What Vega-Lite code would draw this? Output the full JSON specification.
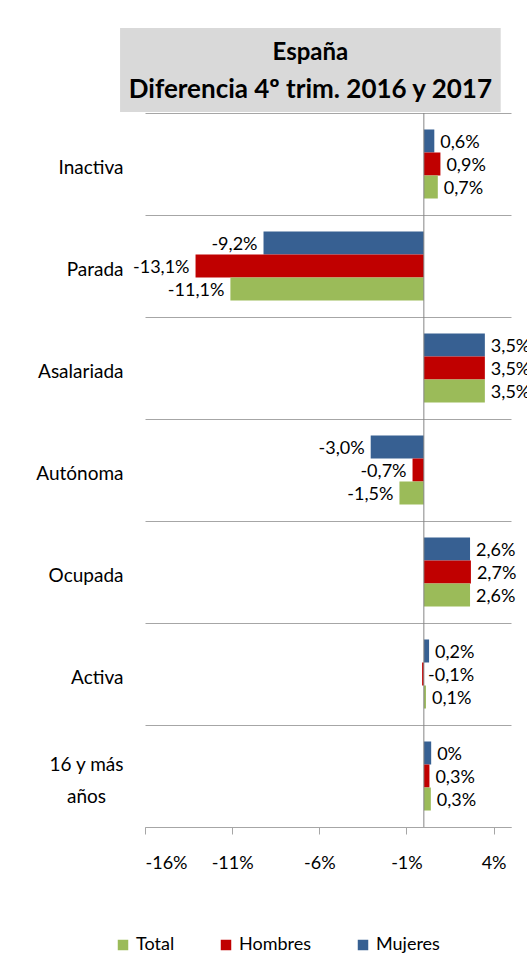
{
  "$schema": "https://vega.github.io/schema/vega-lite/v6.json",
  "padding": {"left": 35, "top": 28, "right": 0, "bottom": 0},
  "background": "white",
  "config": {
    "font": "Lato",
    "view": {"stroke": null},
    "axis": {"labelFont": "Lato", "labelColor": "#000000"},
    "legend": {"labelFont": "Lato", "labelColor": "#000000"}
  },
  "spacing": -8,
  "resolve": {"scale": {"x": "independent"}},
  "vconcat": [
    {
      "width": 366,
      "height": 84,
      "data": {"values": [{"line1": "España", "line2": "Diferencia 4º trim. 2016 y 2017", "x0": -17.43, "x1": 4.41, "xc": -6.51}]},
      "layer": [
        {
          "mark": {"type": "rect", "color": "#d9d9d9"},
          "encoding": {
            "x": {"field": "x0", "type": "quantitative", "scale": {"domain": [-16, 5], "nice": false, "zero": false}, "axis": null},
            "x2": {"field": "x1"}
          }
        },
        {
          "mark": {"type": "text", "font": "Lato", "fontWeight": "bold", "fontSize": 24, "baseline": "alphabetic", "dy": -10, "color": "#000000"},
          "encoding": {
            "x": {"field": "xc", "type": "quantitative"},
            "text": {"field": "line1"}
          }
        },
        {
          "mark": {"type": "text", "font": "Lato", "fontWeight": "bold", "fontSize": 26, "baseline": "alphabetic", "dy": 28, "color": "#000000"},
          "encoding": {
            "x": {"field": "xc", "type": "quantitative"},
            "text": {"field": "line2"}
          }
        }
      ]
    },
    {
      "width": 366,
      "height": 714,
      "data": {"values": [
        {"cat": "Inactiva", "serie": "Mujeres", "v": 0.6, "label": "0,6%"},
        {"cat": "Inactiva", "serie": "Hombres", "v": 0.95, "label": "0,9%"},
        {"cat": "Inactiva", "serie": "Total", "v": 0.8, "label": "0,7%"},
        {"cat": "Parada", "serie": "Mujeres", "v": -9.2, "label": "-9,2%"},
        {"cat": "Parada", "serie": "Hombres", "v": -13.1, "label": "-13,1%"},
        {"cat": "Parada", "serie": "Total", "v": -11.1, "label": "-11,1%"},
        {"cat": "Asalariada", "serie": "Mujeres", "v": 3.5, "label": "3,5%"},
        {"cat": "Asalariada", "serie": "Hombres", "v": 3.5, "label": "3,5%"},
        {"cat": "Asalariada", "serie": "Total", "v": 3.5, "label": "3,5%"},
        {"cat": "Autónoma", "serie": "Mujeres", "v": -3.05, "label": "-3,0%"},
        {"cat": "Autónoma", "serie": "Hombres", "v": -0.65, "label": "-0,7%"},
        {"cat": "Autónoma", "serie": "Total", "v": -1.4, "label": "-1,5%"},
        {"cat": "Ocupada", "serie": "Mujeres", "v": 2.65, "label": "2,6%"},
        {"cat": "Ocupada", "serie": "Hombres", "v": 2.7, "label": "2,7%"},
        {"cat": "Ocupada", "serie": "Total", "v": 2.65, "label": "2,6%"},
        {"cat": "Activa", "serie": "Mujeres", "v": 0.3, "label": "0,2%"},
        {"cat": "Activa", "serie": "Hombres", "v": -0.1, "label": "-0,1%"},
        {"cat": "Activa", "serie": "Total", "v": 0.12, "label": "0,1%"},
        {"cat": "16 y más años", "serie": "Mujeres", "v": 0.42, "label": "0%"},
        {"cat": "16 y más años", "serie": "Hombres", "v": 0.32, "label": "0,3%"},
        {"cat": "16 y más años", "serie": "Total", "v": 0.4, "label": "0,3%"}
      ]},
      "layer": [
        {
          "mark": {"type": "bar"},
          "encoding": {
            "y": {
              "field": "cat", "type": "nominal",
              "sort": ["Inactiva", "Parada", "Asalariada", "Autónoma", "Ocupada", "Activa", "16 y más años"],
              "scale": {"domain": ["Inactiva", "Parada", "Asalariada", "Autónoma", "Ocupada", "Activa", "16 y más años"], "paddingInner": 0, "paddingOuter": 0},
              "axis": {
                "title": null, "domain": false, "ticks": false, "grid": true, "tickBand": "extent",
                "gridColor": "#a6a6a6", "gridWidth": 1, "labelFontSize": 19,
                "labelPadding": {"condition": {"test": "datum.value == '16 y más años'", "value": 59}, "value": 22},
                "labelAlign": {"condition": {"test": "datum.value == '16 y más años'", "value": "center"}, "value": "right"},
                "labelOffset": {"condition": {"test": "datum.value == '16 y más años'", "value": -12}, "value": 3},
                "labelLineHeight": 32,
                "labelExpr": "datum.value == '16 y más años' ? ['16 y más', 'años'] : datum.value"
              }
            },
            "yOffset": {
              "field": "serie", "type": "nominal",
              "scale": {"domain": ["Mujeres", "Hombres", "Total"], "paddingInner": 0, "paddingOuter": 0.717}
            },
            "x": {
              "field": "v", "type": "quantitative",
              "scale": {"domain": [-16, 5], "nice": false, "zero": false},
              "axis": {
                "title": null, "values": [-16, -11, -6, -1, 4], "grid": false,
                "domainColor": "#a6a6a6", "tickColor": "#a6a6a6", "tickSize": 7,
                "labelFontSize": 18, "labelPadding": 20,
                "labelExpr": "datum.value + '%'"
              }
            },
            "x2": {"datum": 0},
            "color": {
              "field": "serie", "type": "nominal",
              "scale": {"domain": ["Total", "Hombres", "Mujeres"], "range": ["#9bbb59", "#c00000", "#376092"]},
              "legend": {
                "title": null, "orient": "none", "direction": "horizontal",
                "legendX": -31, "legendY": 908,
                "symbolType": "square", "symbolSize": 110, "symbolStrokeWidth": 0,
                "labelFontSize": 18, "columnPadding": 42
              }
            }
          }
        },
        {
          "transform": [{"filter": "datum.v >= -0.3"}],
          "mark": {"type": "text", "align": "left", "baseline": "middle", "dx": 6, "dy": 2, "fontSize": 18, "color": "#000000"},
          "encoding": {
            "y": {"field": "cat", "type": "nominal"},
            "yOffset": {"field": "serie", "type": "nominal"},
            "x": {"field": "v", "type": "quantitative"},
            "text": {"field": "label"}
          }
        },
        {
          "transform": [{"filter": "datum.v < -0.3"}],
          "mark": {"type": "text", "align": "right", "baseline": "middle", "dx": -6, "dy": 2, "fontSize": 18, "color": "#000000"},
          "encoding": {
            "y": {"field": "cat", "type": "nominal"},
            "yOffset": {"field": "serie", "type": "nominal"},
            "x": {"field": "v", "type": "quantitative"},
            "text": {"field": "label"}
          }
        },
        {
          "data": {"values": [{"zero": 0}]},
          "mark": {"type": "rule", "color": "#868686", "strokeWidth": 1},
          "encoding": {
            "x": {"field": "zero", "type": "quantitative"}
          }
        }
      ]
    }
  ]
}
